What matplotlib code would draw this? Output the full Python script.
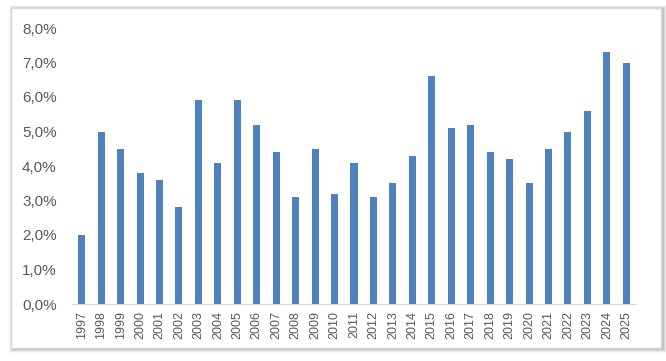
import numpy as np
import matplotlib.pyplot as plt
from matplotlib.patches import Rectangle
from matplotlib.ticker import FuncFormatter

years = [str(y) for y in range(1997, 2026)]
values = [2.0, 5.0, 4.5, 3.8, 3.6, 2.8, 5.9, 4.1, 5.9, 5.2, 4.4, 3.1, 4.5, 3.2,
          4.1, 3.1, 3.5, 4.3, 6.6, 5.1, 5.2, 4.4, 4.2, 3.5, 4.5, 5.0, 5.6, 7.3, 7.0]

W, H = 666, 361
fig = plt.figure(figsize=(W / 100, H / 100), dpi=100)
fig.patch.set_facecolor('white')

# soft shadow and frame around the chart area
x0, y0, x1, y1 = 11, 8, 661, 348
for i, a in enumerate([0.10, 0.07, 0.05, 0.03]):
    d = i + 1
    fig.patches.append(Rectangle(((x0 - d + 2) / W, 1 - (y1 + d + 1) / H),
                                 (x1 - x0 + 2 * d) / W, (y1 - y0 + 2 * d) / H,
                                 transform=fig.transFigure, facecolor='black',
                                 alpha=a, edgecolor='none', zorder=0))
fig.patches.append(Rectangle((x0 / W, 1 - y1 / H), (x1 - x0) / W, (y1 - y0) / H,
                             transform=fig.transFigure, facecolor='white',
                             edgecolor='#d9d9d9', linewidth=1, zorder=1))

ax = fig.add_axes([72 / W, (H - 304) / H, (636 - 72) / W, (304 - 28) / H])
ax.set_facecolor('none')
ax.set_zorder(2)

x = np.arange(len(years))
ax.bar(x, values, width=0.36, color='#4F81BD')

ax.set_xlim(-0.5, len(years) - 0.5)
ax.set_ylim(0, 8)
ax.set_yticks(np.arange(0, 9, 1))
ax.yaxis.set_major_formatter(FuncFormatter(lambda v, p: f"{v:.1f}%".replace('.', ',')))
ax.set_xticks(x)
ax.set_xticklabels(years, rotation=90)

for s in ['top', 'right', 'left']:
    ax.spines[s].set_visible(False)
ax.spines['bottom'].set_color('#d9d9d9')
ax.tick_params(axis='both', length=0, colors='#595959')
ax.tick_params(axis='y', labelsize=11, pad=11)
ax.tick_params(axis='x', labelsize=9, pad=5)
for lab in ax.get_xticklabels() + ax.get_yticklabels():
    lab.set_fontfamily('Liberation Sans')

fig.savefig('out.png', dpi=100)
